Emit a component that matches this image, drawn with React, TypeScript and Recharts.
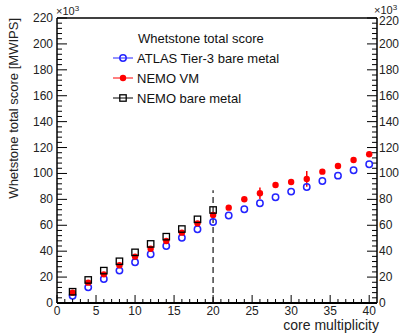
import React from 'react';
import { ScatterChart, Scatter, XAxis, YAxis, ErrorBar, ReferenceLine, Label } from 'recharts';

// core multiplicity values on the x axis
const cores = [2, 4, 6, 8, 10, 12, 14, 16, 18, 20, 22, 24, 26, 28, 30, 32, 34, 36, 38, 40];
const bareCores = [2, 4, 6, 8, 10, 12, 14, 16, 18, 20];

// scores in units of 10^3 MWIPS
const atlasScore = [5.6, 12.1, 18.5, 25, 31.4, 37.6, 44, 50.4, 56.9, 62.5, 67.5, 72.4, 77, 81.6, 86, 89.6, 94.2, 98.3, 102.5, 107.1];
const nemoVmScore = [8, 15.7, 22.1, 29.1, 35.8, 41.9, 47.9, 54.3, 61.5, 68, 73.6, 80.1, 84.7, 91.1, 93.4, 95.8, 101.4, 105.8, 110.4, 114.8];
const nemoVmError = [0.8, 1, 1, 1, 1, 1, 1, 1, 1, 1.5, 1, 1, 4.5, 1, 1, 6, 1, 1, 1, 1];
const nemoBareScore = [8.7, 17.8, 25, 32.2, 39.1, 45.6, 51.2, 57.1, 64.6, 71.8];

const xMajor = [0, 5, 10, 15, 20, 25, 30, 35, 40];
const yMajor = [0, 20, 40, 60, 80, 100, 120, 140, 160, 180, 200, 220];
const xTicks = Array.from({ length: 41 }, (_, i) => i);
const yTicks = Array.from({ length: 56 }, (_, i) => i * 4);
const xMax = 41;
const yMax = 220;

const cutCore = 20;
const cutTop = 87;

// layout
const W = 401;
const H = 334;
const LEFT_W = 57;
const RIGHT_W = 24;
const PLOT_W = W - LEFT_W - RIGHT_W;

const FONT = '"Liberation Sans", Arial, sans-serif';
const BLUE = '#2424ff';
const RED = '#ff0000';
const BLACK = '#000000';

const atlasData = cores.map((x, i) => ({ x, y: atlasScore[i] }));
const vmData = cores.map((x, i) => ({ x, y: nemoVmScore[i], err: nemoVmError[i] }));
const bareData = bareCores.map((x, i) => ({ x, y: nemoBareScore[i] }));

const legendTitle = 'Whetstone total score';
const series = [
  { name: 'ATLAS Tier-3 bare metal', color: BLUE, marker: 'circle' },
  { name: 'NEMO VM', color: RED, marker: 'dot' },
  { name: 'NEMO bare metal', color: BLACK, marker: 'square' },
];

function Marker({ kind, cx, cy }: { kind: string; cx: number; cy: number }) {
  if (kind === 'circle') return <circle cx={cx} cy={cy} r={3.2} fill="none" stroke={BLUE} strokeWidth={1.5} />;
  if (kind === 'dot') return <circle cx={cx} cy={cy} r={3.2} fill={RED} />;
  return <rect x={cx - 3.2} y={cy - 3.2} width={6.4} height={6.4} fill="none" stroke={BLACK} strokeWidth={1.3} />;
}

function XTick(props: any) {
  const { x, y, payload } = props;
  const major = xMajor.includes(payload.value);
  return (
    <g>
      <line x1={x} x2={x} y1={y} y2={y - (major ? 8 : 4)} stroke={BLACK} strokeWidth={1} />
      {major ? (
        <text x={x} y={y + 12} textAnchor="middle" fontSize={12} fontFamily={FONT} fill="#222">
          {payload.value}
        </text>
      ) : null}
    </g>
  );
}

function YTick(props: any) {
  const { x, y, payload } = props;
  const major = yMajor.includes(payload.value);
  return (
    <g>
      <line x1={x} x2={x + (major ? 10 : 5)} y1={y} y2={y} stroke={BLACK} strokeWidth={1} />
      {major ? (
        <text x={x - 4} y={y} dy={4} textAnchor="end" fontSize={12} fontFamily={FONT} fill="#222">
          {payload.value}
        </text>
      ) : null}
    </g>
  );
}

// mirrored axis on the right edge of the frame, placed from the left axis box
function RightAxis({ x, top, height }: { x: number; top: number; height: number }) {
  const pos = (v: number) => top + height * (1 - v / yMax);
  return (
    <g>
      <line x1={x} x2={x} y1={top} y2={top + height} stroke={BLACK} strokeWidth={1.5} />
      {yTicks.map((v) => {
        const major = yMajor.includes(v);
        const y = pos(v);
        return (
          <g key={v}>
            <line x1={x} x2={x - (major ? 10 : 5)} y1={y} y2={y} stroke={BLACK} strokeWidth={1} />
            {major ? (
              <text x={x + 2} y={y} dy={v === yMax ? 7 : 4} fontSize={12} fontFamily={FONT} fill="#222">
                {v}
              </text>
            ) : null}
          </g>
        );
      })}
    </g>
  );
}

function Power({ x, y }: { x: number; y: number }) {
  return (
    <text x={x} y={y} fontSize={11} fontFamily={FONT} fill="#222">
      ×10<tspan dy={-4} fontSize={8}>3</tspan>
    </text>
  );
}

function LegendSvg({ x, y }: { x: number; y: number }) {
  return (
    <g fontFamily={FONT} fontSize={13} fill="#111">
      <text x={x + 30} y={y + 4.5}>{legendTitle}</text>
      {series.map((s, i) => {
        const cy = y + 20 * (i + 1);
        return (
          <g key={s.name}>
            <line x1={x + 5} x2={x + 25} y1={cy} y2={cy} stroke={s.color} strokeWidth={1} />
            <Marker kind={s.marker} cx={x + 15} cy={cy} />
            <text x={x + 29} y={cy + 4.5}>{s.name}</text>
          </g>
        );
      })}
    </g>
  );
}

function LeftTitle(props: any) {
  const vb = props.viewBox;
  const tx = vb.x + 13;
  const plotLeft = vb.x + vb.width;
  return (
    <g>
      <text
        x={tx}
        y={vb.y}
        transform={`rotate(-90, ${tx}, ${vb.y})`}
        textAnchor="end"
        dominantBaseline="central"
        fontSize={13}
        fontFamily={FONT}
        fill="#222"
      >
        Whetstone total score [MWIPS]
      </text>
      <RightAxis x={plotLeft + PLOT_W} top={vb.y} height={vb.height} />
      <Power x={plotLeft - 1} y={vb.y - 3} />
      <Power x={plotLeft + PLOT_W - 3} y={vb.y - 4} />
      <LegendSvg x={plotLeft + 51} y={vb.y + 20} />
    </g>
  );
}

function BottomTitle(props: any) {
  const vb = props.viewBox;
  return (
    <text x={vb.x + vb.width + 2} y={vb.y + 27} textAnchor="end" fontSize={14} fontFamily={FONT} fill="#222">
      core multiplicity
    </text>
  );
}

export default function App() {
  return (
    <div style={{ position: 'absolute', left: 0, top: 0 }}>
      <ScatterChart width={W} height={H} margin={{ top: 18, right: RIGHT_W, bottom: 0, left: 0 }}>
        <XAxis
          dataKey="x"
          type="number"
          domain={[0, xMax]}
          ticks={xTicks}
          interval={0}
          tickSize={0}
          tickMargin={0}
          tickLine={false}
          tick={<XTick />}
          height={31}
          axisLine={{ stroke: BLACK, strokeWidth: 2 }}
        >
          <Label content={<BottomTitle />} />
        </XAxis>
        <YAxis
          dataKey="y"
          type="number"
          domain={[0, yMax]}
          ticks={yTicks}
          interval={0}
          tickSize={0}
          tickMargin={0}
          tickLine={false}
          tick={<YTick />}
          width={LEFT_W}
          axisLine={{ stroke: BLACK, strokeWidth: 1.5 }}
        >
          <Label content={<LeftTitle />} />
        </YAxis>
        <ReferenceLine y={yMax} stroke={BLACK} strokeWidth={1.5} />
        <ReferenceLine
          segment={[{ x: cutCore, y: 0 }, { x: cutCore, y: cutTop }]}
          stroke="#444"
          strokeWidth={1.5}
          strokeDasharray="6 4"
        />
        <Scatter
          name={series[0].name}
          data={atlasData}
          fill={BLUE}
          isAnimationActive={false}
          shape={(p: any) => <Marker kind="circle" cx={p.cx} cy={p.cy} />}
        />
        <Scatter
          name={series[1].name}
          data={vmData}
          fill={RED}
          isAnimationActive={false}
          shape={(p: any) => <Marker kind="dot" cx={p.cx} cy={p.cy} />}
        >
          <ErrorBar dataKey="err" direction="y" width={0} stroke={RED} strokeWidth={1.5} />
        </Scatter>
        <Scatter
          name={series[2].name}
          data={bareData}
          fill={BLACK}
          isAnimationActive={false}
          shape={(p: any) => <Marker kind="square" cx={p.cx} cy={p.cy} />}
        />
      </ScatterChart>
    </div>
  );
}
